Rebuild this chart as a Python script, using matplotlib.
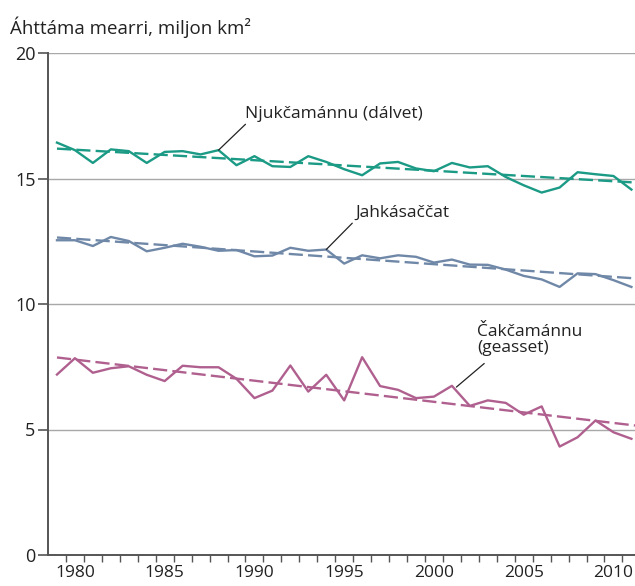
import numpy as np
import matplotlib
matplotlib.use("Agg")
import matplotlib.pyplot as plt

OUTPUT_IMAGE = "out.png"

years = list(range(1979, 2012))

# Njukčamánnu (dálvet) - winter maximum
winter = [16.43, 16.13, 15.62, 16.16, 16.09, 15.62, 16.06, 16.09, 15.96, 16.13,
          15.53, 15.89, 15.49, 15.46, 15.89, 15.66, 15.37, 15.13, 15.60, 15.66,
          15.40, 15.29, 15.62, 15.44, 15.49, 15.06, 14.73, 14.44, 14.64, 15.25,
          15.17, 15.10, 14.56]

# Jahkásaččat - annual mean
annual = [12.54, 12.54, 12.31, 12.67, 12.51, 12.10, 12.24, 12.40, 12.28, 12.12,
          12.15, 11.90, 11.93, 12.24, 12.12, 12.17, 11.61, 11.94, 11.82, 11.94,
          11.88, 11.65, 11.77, 11.57, 11.56, 11.37, 11.12, 10.98, 10.68, 11.22,
          11.19, 10.95, 10.68]

# Čakčamánnu (geasset) - summer minimum
summer = [7.19, 7.84, 7.26, 7.44, 7.52, 7.18, 6.93, 7.54, 7.48, 7.48,
          7.02, 6.25, 6.55, 7.55, 6.51, 7.18, 6.16, 7.88, 6.73, 6.58,
          6.25, 6.31, 6.74, 5.94, 6.16, 6.06, 5.59, 5.92, 4.32, 4.69,
          5.36, 4.89, 4.63]

# trend lines: value at first and last year
trend_years = [1979, 2011.2]
winter_trend = [16.19, 14.84]
annual_trend = [12.65, 11.02]
summer_trend = [7.87, 5.16]

GREEN = "#1b9a85"
BLUE = "#7088a8"
PINK = "#b0608f"
TEXT = "#222222"

def label(ax, text, point, end, textpos):
    # leader line from the data point up to the label, then the label itself
    ax.annotate("", xy=point, xytext=end,
                arrowprops=dict(arrowstyle="-", color=TEXT, lw=0.9,
                                shrinkA=0, shrinkB=0))
    ax.text(textpos[0], textpos[1], text, fontsize=12.5, color=TEXT,
            ha="left", va="center", linespacing=1.0)

def main():
    plt.rcParams['font.family'] = ['Open Sans', 'DejaVu Sans']

    fig = plt.figure(figsize=(6.35, 5.86), dpi=100)
    ax = fig.add_axes([48 / 635, 1 - 555 / 586, 1 - 48 / 635, (555 - 53) / 586])

    series = [(winter, winter_trend, GREEN),
              (annual, annual_trend, BLUE),
              (summer, summer_trend, PINK)]
    for vals, trend, col in series:
        ax.plot(years, vals, color=col, linewidth=1.7, zorder=3)
        ax.plot(trend_years, trend, color=col, linewidth=1.7,
                dashes=(6, 2.2), zorder=3)

    ax.set_xlim(1978.5, 2011.2)
    ax.set_ylim(0, 20)

    # grid and spines
    for y in [5, 10, 15, 20]:
        ax.axhline(y, color="#a8a8a8", linewidth=1.0, zorder=1)
    for s in ["top", "right"]:
        ax.spines[s].set_visible(False)
    for s in ["left", "bottom"]:
        ax.spines[s].set_color("#555555")
        ax.spines[s].set_linewidth(1.4)

    ax.set_yticks([0, 5, 10, 15, 20])
    ax.tick_params(axis="y", length=7, width=1.2, color="#555555",
                   labelsize=13, labelcolor=TEXT, pad=2)
    ax.set_xticks([1980, 1985, 1990, 1995, 2000, 2005, 2010])
    ax.tick_params(axis="x", length=0, labelsize=12.5, labelcolor=TEXT, pad=7)
    ax.set_xticks(np.arange(1979.5, 2011, 1.0), minor=True)
    ax.tick_params(axis="x", which="minor", length=5, width=1.0, color="#555555")

    label(ax, "Njukčamánnu (dálvet)", (1988, winter[9]), (1989.5, 17.16), (1989.5, 17.58))
    label(ax, "Jahkásaččat", (1994, annual[15]), (1995.45, 13.22), (1995.6, 13.62))
    label(ax, "Čakčamánnu\n(geasset)", (2001.25, summer[22] - 0.05), (2002.8, 7.63),
          (2002.4, 8.55))

    fig.text(10 / 635, 1 - 27 / 586, "Áhttáma mearri, miljon km²",
             fontsize=13.5, color=TEXT, ha="left", va="center")

    fig.savefig(OUTPUT_IMAGE, dpi=100)

if __name__ == "__main__":
    main()
